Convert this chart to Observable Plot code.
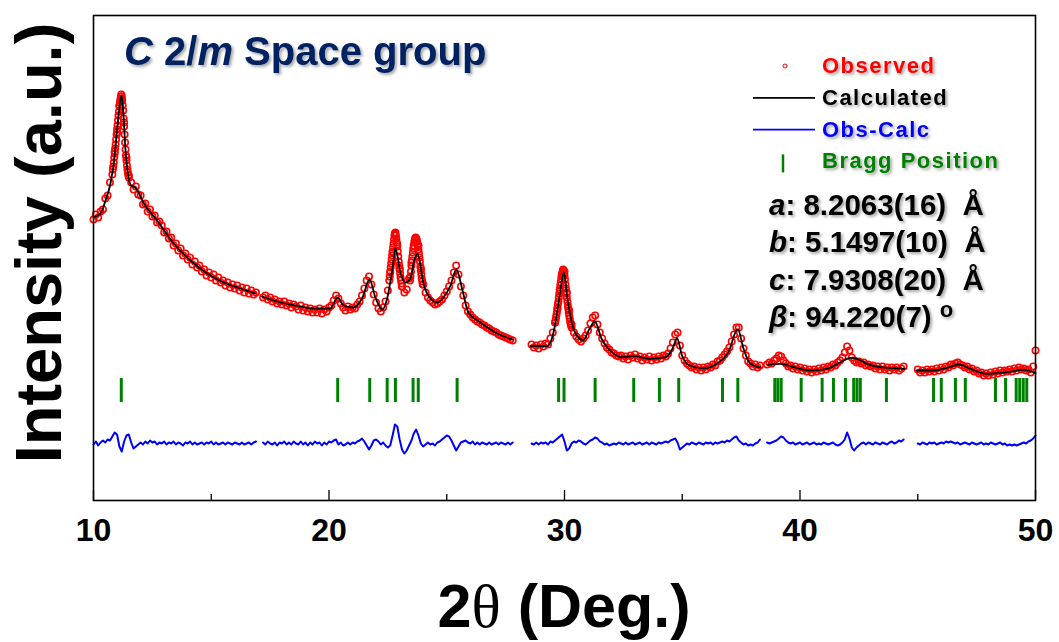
<!DOCTYPE html>
<html><head><meta charset="utf-8">
<script src="https://cdn.jsdelivr.net/npm/d3@7"></script>
<script src="https://cdn.jsdelivr.net/npm/@observablehq/plot@0.6"></script>
<style>html,body{margin:0;padding:0;background:#fff}svg{display:block}</style>
</head><body><div id="chart"></div>
<script>
// ---------- data (intensity in a.u.) ----------
const xTicks = [10, 20, 30, 40, 50];
const xMinorTicks = [15, 25, 35, 45];

// Calculated profile, one array of [2θ, I] per measured segment
const calcSeg1 = [[10.0,283],[10.3,287],[10.51,300],[10.72,317],[10.86,337],[11.0,370],[11.12,397],[11.19,405],[11.26,390],[11.36,350],[11.46,327],[11.6,315],[11.78,313],[12.14,297],[12.7,280],[13.41,257],[14.12,240],[14.83,227],[15.53,218],[16.24,212],[16.88,207]];
const calcSeg2 = [[17.16,204],[17.94,198],[18.6,195],[19.34,192],[20.06,192],[20.36,203],[20.62,195],[21.04,193],[21.42,203],[21.72,221],[21.97,203],[22.27,191],[22.48,203],[22.7,233],[22.82,252],[23.04,227],[23.25,218],[23.46,222],[23.59,237],[23.76,247],[24.01,217],[24.31,202],[24.61,198],[24.86,203],[25.16,215],[25.41,231],[25.67,210],[25.92,188],[26.43,178],[27.15,167],[27.79,161]];
const calcSeg3 = [[28.56,154.5],[29.28,154.5],[29.57,172],[29.78,202.5],[29.97,228],[30.14,199],[30.43,169],[30.79,160.3],[31.07,172],[31.29,179],[31.57,162],[32.01,148.4],[32.44,143.4],[32.94,144.4],[33.59,141.7],[34.3,143.4],[34.59,152],[34.78,162],[34.99,145],[35.31,135],[35.88,132.2],[36.45,136.6],[36.96,148.4],[37.36,171.4],[37.6,152],[37.9,136.6],[38.32,133.2]];
const calcSeg4 = [[38.63,135.7],[39.17,136.7],[39.74,133.3],[40.45,130],[41.15,131.7],[41.72,138.3],[42.14,142.7],[42.43,141.7],[42.85,136.7],[43.42,133.3],[44.44,131.7]];
const calcSeg5 = [[44.95,130],[45.68,130],[46.25,132.7],[46.75,136],[47.24,131.7],[47.95,126.7],[48.8,128.3],[49.5,130.7],[50.0,127.3]];

// Observed intensities: runs of equally spaced 2θ steps (start, step, values)
const obsRun1 = {x0: 10.0, step: 0.1, v: [281,286,283,289,291,302,305,318,326,349,368,395,402,378,343,325,318,311,314,306,305,296,297,289,291,284,285,278,279,275,268,269,262,263,255,257,250,252,245,247,241,243,236,239,233,235,229,231,225,228,223,226,220,223,218,220,215,218,213,216,212,215,210,213,208,212,207,210,206,208]};
const obsPeak1 = {x0: 10.82, step: 0.02, v: [331,334,338,343,347,352,356,361,366,371,375,380,385,389,394,398,401,404,406,404,400,395,390,382,374,366,358,351,345,340,335,331,328,325,323]};
const obsRun2 = {x0: 17.2, step: 0.1, v: [203,205,201,203,199,201,197,199,196,199,195,197,193,196,194,191,195,190,193,189,192,188,191,188,192,187,191,189,193,195,200,205,202,197,193,190,194,191,193,192,196,199,205,212,220,224,216,206,198,192,189,193,199,210,228,248,266,256,232,214,208,211,222,238,252,262,255,232,216,208,203,200,198,196,197,199,201,205,209,214,220,228,235,226,214,205,195,189,186,183,181,179,178,176,175,173,172,170,169,168,166,165,164,163,162,161,160]};
const obsPeak2a = {x0: 22.56, step: 0.02, v: [220,224,229,233,237,241,245,249,253,257,261,265,267,268,265,262,258,254,249,244,239,235,231,227,223,220,217,214]};
const obsPeak2b = {x0: 23.44, step: 0.02, v: [220,224,229,235,240,244,248,252,255,258,260,262,263,262,261,259,256,254,251,247,243,239,234,230,226,222,219,216]};
const obsRun3 = {x0: 28.6, step: 0.1, v: [156,153,155,152,156,154,157,156,162,168,178,192,210,226,229,208,190,176,168,164,161,159,162,165,170,177,183,185,176,168,162,157,153,151,148,147,145,144,145,142,144,141,145,143,146,142,144,140,143,141,144,140,143,141,144,142,145,144,147,152,158,166,168,155,145,140,137,135,133,134,131,133,130,133,131,134,133,136,135,139,140,143,146,149,153,159,166,173,173,162,152,145,139,137,134,136,133,135]};
const obsPeak3 = {x0: 29.6, step: 0.02, v: [178,180,183,186,189,192,196,199,203,207,211,215,218,222,225,227,229,231,230,228,225,221,216,212,207,203,199,195,192,188,185,182,179,177,175,173]};
const obsRun4 = {x0: 38.6, step: 0.1, v: [136,138,137,140,142,145,144,140,137,134,135,132,134,131,133,130,132,129,131,128,131,129,132,130,133,131,134,133,136,135,138,140,143,148,154,150,143,140,138,139,137,138,135,136,134,135,132,134,131,134,131,133,130,133,131,133,130,132,134]};
const obsRun5 = {x0: 45.0, step: 0.1, v: [131,128,130,128,131,129,131,129,132,130,133,131,134,133,136,135,137,138,136,135,133,134,131,132,129,130,127,128,125,127,125,128,126,129,127,130,128,130,129,131,129,132,130,133,131,132,130,131,128,134,150]};

// Difference (Obs - Calc), 0.1° steps per segment
const diffRun1 = {x0: 10.0, step: 0.1, v: [-1,2,-2,1,3,1,4,3,7,11,9,-3,-8,2,8,9,1,-5,-3,-1,1,-1,2,0,3,1,2,-1,1,0,2,-1,1,0,2,-1,1,0,-2,1,0,2,-1,1,-1,0,1,-1,1,0,2,-1,1,-1,0,1,-1,1,0,-1,1,0,-1,1,-1,0,1,-1,1,2]};
const diffRun2 = {x0: 17.2, step: 0.1, v: [1,-1,2,0,-1,1,-2,1,0,2,-1,1,-1,2,0,-1,2,-1,1,-2,1,-1,2,0,1,-2,1,-1,2,1,3,4,-1,1,-2,-1,1,-1,1,0,2,3,5,2,-2,-6,-2,3,4,2,-1,1,-2,-4,-2,8,19,17,4,-6,-10,-7,-2,3,10,14,8,0,-3,-1,1,-1,0,-2,1,2,4,6,8,7,3,-2,-7,-3,1,2,3,1,0,2,-1,1,-1,1,0,-1,1,-1,0,1,-1,1,0,-1,1,-1,1]};
const diffRun3 = {x0: 28.6, step: 0.1, v: [0,-1,1,-1,1,0,1,-1,2,1,3,5,7,9,2,-7,-5,0,2,1,3,2,0,-1,1,3,4,6,5,2,1,-1,0,-2,-1,0,-1,1,0,-1,1,-1,0,1,-1,0,1,-1,0,1,-1,1,0,-1,1,0,1,2,1,3,4,5,1,-6,-4,-2,0,-1,1,0,-1,1,0,-1,1,0,1,-1,1,0,1,2,1,3,2,4,6,7,3,1,-1,0,-2,-1,-2,0,1,4]};
const diffRun4 = {x0: 38.6, step: 0.1, v: [1,0,1,2,3,5,7,6,3,1,0,1,-1,0,1,-1,0,1,-1,0,1,-1,0,-1,1,0,-1,0,1,-1,-2,-1,1,4,11,5,-4,-7,-4,-2,0,1,-1,1,0,-1,1,0,-1,1,0,-1,1,2,0,1,3,2,4]};
const diffRun5 = {x0: 45.0, step: 0.1, v: [0,-1,1,0,-1,1,0,1,-1,0,1,0,2,1,2,1,0,1,-1,0,1,0,-1,1,0,-1,0,1,-1,0,-1,1,0,-1,0,1,-1,0,-2,-1,-2,-1,-2,-1,0,1,0,2,3,5,8]};

// Bragg reflection positions (2θ)
const braggPositions = [11.18,20.37,21.73,22.47,22.82,23.57,23.79,25.44,29.75,29.98,31.3,32.94,34.03,34.85,36.71,37.36,38.93,39.06,39.2,40.05,40.94,41.42,41.93,42.28,42.42,42.56,43.67,45.67,46.0,46.6,47.02,48.3,48.73,49.18,49.33,49.48,49.63];

const titleParts = [["C", true], [" 2/", false], ["m", true], [" Space group", false]];
const legendItems = [
  {label: "Observed", color: "#ff0000", kind: "dot"},
  {label: "Calculated", color: "#000000", kind: "line"},
  {label: "Obs-Calc", color: "#0000ff", kind: "line"},
  {label: "Bragg Position", color: "#008000", kind: "tick"}
];
const latticeParams = [["a", ": 8.2063(16)  Å"], ["b", ": 5.1497(10)  Å"], ["c", ": 7.9308(20)  Å"], ["β", ": 94.220(7) "]];
const xLabel = ["2", "θ", " (Deg.)"];
const yLabel = "Intensity (a.u.)";

// ---------- build tables ----------
const expand = (run, seg) => run.v.map((v, i) => ({x: +(run.x0 + i * run.step).toFixed(3), y: v, seg}));
const calcData = [calcSeg1, calcSeg2, calcSeg3, calcSeg4, calcSeg5].flatMap((s, k) => s.map(([x, y]) => ({x, y, seg: k})));
const obsData = [obsRun1, obsPeak1, obsRun2, obsPeak2a, obsPeak2b, obsRun3, obsPeak3, obsRun4, obsRun5].flatMap((r, k) => expand(r, k));
const diffData = [diffRun1, diffRun2, diffRun3, diffRun4, diffRun5].flatMap((r, k) => expand(r, k));
const DIFF_BASE = 57;
const FONT = "'Liberation Sans', Arial, sans-serif";

const W = 1059, H = 642, mL = 93, mR = 24, mT = 15, mB = 142;

const chart = Plot.plot({
  width: W, height: H,
  marginLeft: mL, marginRight: mR, marginTop: mT, marginBottom: mB,
  style: {fontFamily: FONT, background: "#fff", color: "#000"},
  x: {domain: [10, 50]},
  y: {domain: [0, 485], axis: null},
  marks: [
    Plot.ruleX(braggPositions, {x: d => d, y1: 98, y2: 122, stroke: "#008000", strokeWidth: 3}),
    Plot.line(diffData, {x: "x", y: d => d.y + DIFF_BASE, z: "seg", stroke: "#0000ff", strokeWidth: 2}),
    Plot.dot(obsData, {x: "x", y: "y", r: 3.2, stroke: "#ff0000", strokeWidth: 1.6, fill: "none"}),
    Plot.line(calcData, {x: "x", y: "y", z: "seg", stroke: "#000", strokeWidth: 1.8, curve: "monotone-x"}),
    Plot.ruleX(xTicks, {x: d => d, y1: 0, y2: 10, stroke: "#000", strokeWidth: 1.3}),
    Plot.ruleX(xMinorTicks, {x: d => d, y1: 0, y2: 6, stroke: "#000", strokeWidth: 1.3}),
    Plot.axisX(xTicks, {tickSize: 0, tickPadding: 18, fontSize: 32, fontWeight: "bold", label: null}),
    Plot.frame({stroke: "#000", strokeWidth: 1.6})
  ]
});

const svg = d3.select(chart);
const defs = svg.append("defs");
defs.append("filter").attr("id", "shadow").attr("x", "-10%").attr("y", "-20%").attr("width", "130%").attr("height", "160%")
  .append("feDropShadow").attr("dx", 2).attr("dy", 2).attr("stdDeviation", 1.5).attr("flood-color", "#000").attr("flood-opacity", 0.35);

// title
const t = svg.append("text").attr("x", 124).attr("y", 65).attr("text-anchor", "start").attr("font-family", FONT).attr("font-size", 40)
  .attr("font-weight", "bold").attr("fill", "#002060").attr("filter", "url(#shadow)").attr("xml:space", "preserve");
titleParts.forEach(([s, it]) => t.append("tspan").attr("font-style", it ? "italic" : "normal").text(s));

// legend
legendItems.forEach((d, i) => {
  const yb = 73 + i * 31.8;
  svg.append("text").attr("x", 822).attr("y", yb).attr("text-anchor", "start").attr("font-family", FONT).attr("font-size", 22)
    .attr("font-weight", "bold").attr("letter-spacing", 1.5).attr("fill", d.color).attr("filter", "url(#shadow)").text(d.label);
  const ym = yb - 7;
  if (d.kind === "dot") svg.append("circle").attr("cx", 785).attr("cy", ym).attr("r", 2).attr("fill", "none").attr("stroke", d.color).attr("stroke-width", 1);
  if (d.kind === "line") svg.append("line").attr("x1", 753).attr("x2", 815).attr("y1", ym).attr("y2", ym).attr("stroke", d.color).attr("stroke-width", 1.8);
  if (d.kind === "tick") svg.append("line").attr("x1", 783).attr("x2", 783).attr("y1", yb - 14).attr("y2", yb + 4).attr("stroke", d.color).attr("stroke-width", 2.5);
});

// lattice parameters
latticeParams.forEach(([v, rest], i) => {
  const tx = svg.append("text").attr("x", 769).attr("y", 215 + i * 37.3).attr("text-anchor", "start").attr("font-family", FONT).attr("font-size", 29.5)
    .attr("font-weight", "bold").attr("fill", "#000").attr("filter", "url(#shadow)").attr("xml:space", "preserve");
  tx.append("tspan").attr("font-style", "italic").text(v);
  tx.append("tspan").text(rest);
  if (v === "β") tx.append("tspan").attr("dy", -10).attr("font-size", 22).text("o");
});

// x label
const xl = svg.append("text").attr("x", (mL + W - mR) / 2).attr("y", 627).attr("text-anchor", "middle")
  .attr("font-family", FONT).attr("font-size", 61).attr("font-weight", "bold").attr("fill", "#000");
xl.append("tspan").text(xLabel[0]);
xl.append("tspan").attr("font-family", "'Liberation Serif', serif").attr("font-weight", "normal").text(xLabel[1]);
xl.append("tspan").text(xLabel[2]);

// y label
svg.append("text").attr("transform", "translate(61,243) rotate(-90)").attr("text-anchor", "middle")
  .attr("font-family", FONT).attr("font-size", 65).attr("font-weight", "bold").attr("fill", "#000").text(yLabel);

document.getElementById("chart").appendChild(chart);
</script>
</body></html>
